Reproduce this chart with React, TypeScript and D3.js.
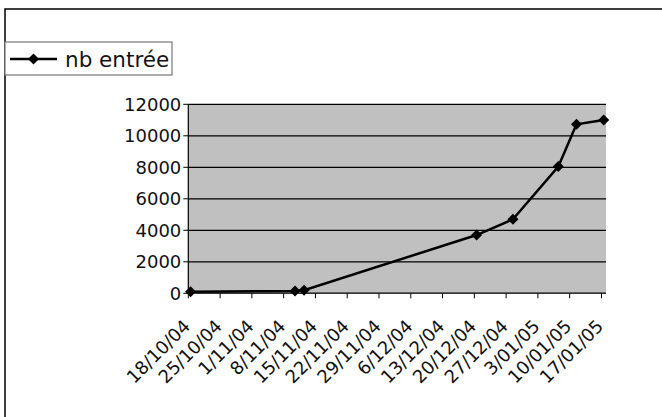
import React from "react";
import * as d3 from "d3";

const seriesName = "nb entrée";
const dates = ["2004-10-18", "2004-11-10", "2004-11-12", "2004-12-20", "2004-12-28", "2005-01-07", "2005-01-11", "2005-01-17"];
const values = [100, 150, 200, 3700, 4700, 8050, 10730, 11000];
const tickDates = ["2004-10-18", "2004-10-25", "2004-11-01", "2004-11-08", "2004-11-15", "2004-11-22", "2004-11-29", "2004-12-06", "2004-12-13", "2004-12-20", "2004-12-27", "2005-01-03", "2005-01-10", "2005-01-17"];
const tickLabels = ["18/10/04", "25/10/04", "1/11/04", "8/11/04", "15/11/04", "22/11/04", "29/11/04", "6/12/04", "13/12/04", "20/12/04", "27/12/04", "3/01/05", "10/01/05", "17/01/05"];
const yTicks = [0, 2000, 4000, 6000, 8000, 10000, 12000];

const W = 662, H = 417;
const left = 188.3, right = 606, top = 104.3, bottom = 293.3;
const font = "'DejaVu Sans', sans-serif";

export default function App() {
  const parse = (s: string) => new Date(s + "T00:00:00Z");
  const x = d3.scaleUtc().domain([parse("2004-10-18"), parse("2005-01-18")]).range([left, right]);
  const y = d3.scaleLinear().domain([0, 12000]).range([bottom, top]);
  const halfDay = 12 * 3600 * 1000;
  const pts = dates.map((d, i) => [x(new Date(parse(d).getTime() + halfDay)), y(values[i])] as [number, number]);
  const line = d3.line()(pts) || "";
  const diamond = (cx: number, cy: number, r = 5.5) => `M${cx},${cy - r}L${cx + r},${cy}L${cx},${cy + r}L${cx - r},${cy}Z`;

  return (
    <svg width={W} height={H} style={{ position: "absolute", left: 0, top: 0, background: "#fff" }}>
      {/* outer frame */}
      <path d={`M5,${H + 2}V9H${W + 2}`} fill="none" stroke="#000" strokeWidth={1.5} />
      {/* plot area */}
      <rect x={left} y={top} width={right - left} height={bottom - top} fill="#c0c0c0" />
      {yTicks.map((t) => (
        <line key={"g" + t} x1={left} x2={right} y1={y(t)} y2={y(t)} stroke="#000" strokeWidth={1.2} />
      ))}
      {/* y axis */}
      <line x1={left} x2={left} y1={top} y2={bottom} stroke="#000" strokeWidth={1.2} />
      {yTicks.map((t) => (
        <g key={"y" + t}>
          <line x1={left - 5} x2={left} y1={y(t)} y2={y(t)} stroke="#000" />
          <text x={left - 7} y={y(t)} dy="0.36em" textAnchor="end" fontFamily={font} fontSize={18} fill="#111">
            {t}
          </text>
        </g>
      ))}
      {/* x axis */}
      <line x1={left} x2={right} y1={bottom} y2={bottom} stroke="#333" strokeWidth={1.5} />
      {tickDates.map((d, i) => {
        const tx = x(parse(d));
        return (
          <g key={"x" + d}>
            <line x1={tx} x2={tx} y1={bottom} y2={bottom + 5} stroke="#000" />
            <text
              transform={`translate(${tx + 3},${bottom + 34}) rotate(-45)`}
              textAnchor="end"
              fontFamily={font}
              fontSize={18}
              fill="#111"
            >
              {tickLabels[i]}
            </text>
          </g>
        );
      })}
      {/* series */}
      <path d={line} fill="none" stroke="#000" strokeWidth={2.5} />
      {pts.map((p, i) => (
        <path key={"m" + i} d={diamond(p[0], p[1])} fill="#000" />
      ))}
      {/* legend */}
      <rect x={5} y={42} width={167} height={33} fill="#fff" stroke="#777" strokeWidth={1.2} />
      <line x1={10} x2={57} y1={59} y2={59} stroke="#000" strokeWidth={2.5} />
      <path d={diamond(33.5, 59)} fill="#000" />
      <text x={65} y={67} fontFamily={font} fontSize={21.5} fill="#111">
        {seriesName}
      </text>
    </svg>
  );
}
